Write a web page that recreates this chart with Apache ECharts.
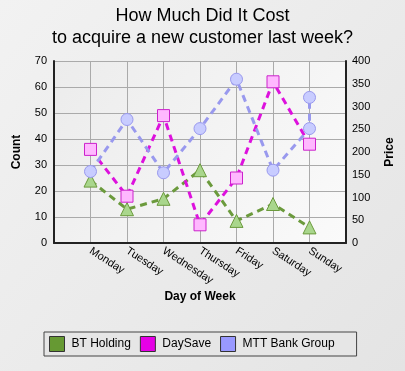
<!DOCTYPE html>
<html><head><meta charset="utf-8">
<script src="https://cdn.jsdelivr.net/npm/echarts@6/dist/echarts.min.js"></script>
<style>html,body{margin:0;padding:0;background:#ececec;}#c{width:405px;height:371px;}</style>
</head><body><div id="c"></div>
<script>
const days = ['Monday','Tuesday','Wednesday','Thursday','Friday','Saturday','Sunday'];
const countTicks = [0,10,20,30,40,50,60,70];
const priceTicks = [0,50,100,150,200,250,300,350,400];
const btHolding = [24,13,17,28,8.5,15,6];
const daySave = [36,18,49,7,25,62,38];
const mttDayIndex = [0,1,2,3,4,5,6,6];
const mttBank = [27.5,47.5,27,44,63,28,44,56];

const font = 'Liberation Sans, Arial, sans-serif';
const chart = echarts.init(document.getElementById('c'));
const pts = (vals, idx) => vals.map((v,i)=>[(idx?idx[i]:i)+1, v]);
chart.setOption({
  backgroundColor: new echarts.graphic.LinearGradient(0,0,1,1,[{offset:0,color:'#f2f2f2'},{offset:1,color:'#e4e4e4'}]),
  animation:false,
  title:{text:'How Much Did It Cost\nto acquire a new customer last week?',left:'center',top:0,
    textStyle:{fontFamily:font,fontSize:18,fontWeight:'normal',color:'#000',lineHeight:22}},
  grid:{left:54,right:59,top:61,bottom:128,show:true,borderWidth:0,
    backgroundColor:new echarts.graphic.LinearGradient(0,0,1,1,[{offset:0,color:'#ececec'},{offset:1,color:'#fafafa'}])},
  legend:{left:44,top:332,icon:'rect',itemWidth:15,itemHeight:15,itemGap:9,
    padding:[4,22,4,5],backgroundColor:'#e6e6e6',borderColor:'#444',borderWidth:1,
    textStyle:{fontFamily:font,fontSize:12,color:'#000',padding:[0,0,0,2]},
    data:[
      {name:'BT Holding',itemStyle:{color:'#669933',borderColor:'#333',borderWidth:1}},
      {name:'DaySave',itemStyle:{color:'#e600e6',borderColor:'#333',borderWidth:1}},
      {name:'MTT Bank Group',itemStyle:{color:'#9999ff',borderColor:'#333',borderWidth:1}}]},
  xAxis:{type:'value',min:0,max:8,interval:1,name:'Day of Week',nameLocation:'middle',nameGap:48,
    nameTextStyle:{fontFamily:font,fontSize:12,fontWeight:'bold',color:'#000'},
    axisLine:{show:true,lineStyle:{color:'#222',width:2}},axisTick:{show:false},
    splitLine:{show:true,lineStyle:{color:'#aaaaaa',width:1}},
    axisLabel:{rotate:-33,margin:7,fontFamily:font,fontSize:11,color:'#000',
      formatter:v=> (v>=1&&v<=days.length)?days[v-1]:''}},
  yAxis:[
    {type:'value',min:0,max:70,interval:10,name:'Count',nameLocation:'middle',nameGap:31,
      nameTextStyle:{fontFamily:font,fontSize:12,fontWeight:'bold',color:'#000'},
      axisLine:{show:true,lineStyle:{color:'#222',width:2}},axisTick:{show:false},
      splitLine:{show:true,lineStyle:{color:'#aaaaaa',width:1}},
      axisLabel:{margin:7,fontFamily:font,fontSize:11,color:'#000',formatter:v=>countTicks.includes(v)?String(v):''}},
    {type:'value',min:0,max:400,interval:50,name:'Price',nameLocation:'middle',nameGap:38,nameRotate:90,
      nameTextStyle:{fontFamily:font,fontSize:12,fontWeight:'bold',color:'#000'},
      axisLine:{show:true,lineStyle:{color:'#222',width:2}},axisTick:{show:false},
      splitLine:{show:false},
      axisLabel:{margin:6,fontFamily:font,fontSize:11,color:'#000',formatter:v=>priceTicks.includes(v)?String(v):''}}
  ],
  series:[
    {name:'BT Holding',type:'line',data:pts(btHolding),symbol:'triangle',symbolSize:13,
      lineStyle:{color:'#6b9a3c',width:3,type:[7,5]},
      itemStyle:{color:'#a9d68c',borderColor:'#6b9a3c',borderWidth:1}},
    {name:'DaySave',type:'line',data:pts(daySave),symbol:'rect',symbolSize:12,
      lineStyle:{color:'#dd11dd',width:3,type:[7,5]},
      itemStyle:{color:'#ffb8ff',borderColor:'#cc22cc',borderWidth:1}},
    {name:'MTT Bank Group',type:'line',data:pts(mttBank,mttDayIndex),symbol:'circle',symbolSize:12,
      lineStyle:{color:'#9999ee',width:3,type:[7,5]},
      itemStyle:{color:'#c8ccff',borderColor:'#9999ee',borderWidth:1}}
  ]
});
</script></body></html>
